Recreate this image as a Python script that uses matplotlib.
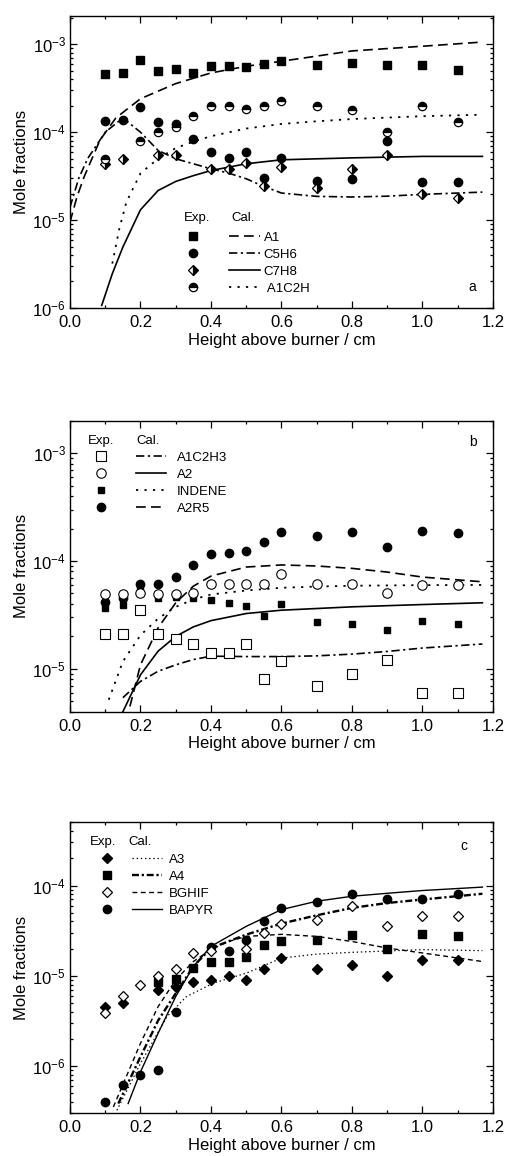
import matplotlib
matplotlib.use("Agg")
import matplotlib.pyplot as plt
from matplotlib.lines import Line2D
from matplotlib.ticker import LogLocator, MultipleLocator, NullFormatter, FormatStrFormatter
import numpy as np

plt.rcParams["font.family"] = ["Liberation Sans", "DejaVu Sans"]
plt.rcParams["mathtext.fontset"] = "custom"
plt.rcParams["mathtext.rm"] = "Liberation Sans"
plt.rcParams["mathtext.it"] = "Liberation Sans:italic"
plt.rcParams["axes.unicode_minus"] = False
plt.rcParams["lines.scale_dashes"] = False

# heights above burner (cm) of the sampled points
x_exp = [0.1, 0.15, 0.2, 0.25, 0.3, 0.35, 0.4, 0.45, 0.5, 0.55, 0.6, 0.7, 0.8, 0.9, 1.0, 1.1]

# ---- panel a: measured
a1_exp = [4.56e-4, 4.72e-4, 6.58e-4, 4.93e-4, 5.2e-4, 4.77e-4, 5.67e-4, 5.67e-4,
          5.52e-4, 5.93e-4, 6.52e-4, 5.77e-4, 6.19e-4, 5.87e-4, 5.87e-4, 5.07e-4]
c5h6_exp = [1.33e-4, 1.36e-4, 1.91e-4, 1.32e-4, 1.25e-4, 8.4e-5, 5.93e-5, 5.07e-5,
            5.93e-5, 3.0e-5, 5.07e-5, 2.8e-5, 2.95e-5, 7.9e-5, 2.7e-5, 2.7e-5]
c7h8_x = [0.1, 0.15, 0.25, 0.3, 0.4, 0.45, 0.5, 0.55, 0.6, 0.7, 0.8, 0.9, 1.0, 1.1]
c7h8_exp = [4.37e-5, 4.98e-5, 5.57e-5, 5.57e-5, 3.83e-5, 3.83e-5, 4.44e-5, 2.43e-5,
            4.0e-5, 2.31e-5, 3.83e-5, 5.57e-5, 2.0e-5, 1.78e-5]
a1c2h_x = [0.1, 0.2, 0.25, 0.3, 0.35, 0.4, 0.45, 0.5, 0.55, 0.6, 0.7, 0.8, 0.9, 1.0, 1.1]
a1c2h_exp = [5.0e-5, 8.0e-5, 1.0e-4, 1.15e-4, 1.51e-4, 2.0e-4, 2.0e-4, 1.84e-4, 2.0e-4,
             2.25e-4, 2.0e-4, 1.81e-4, 1.0e-4, 2.0e-4, 1.3e-4]

# ---- panel a: calculated
a1_cx = [0.0, 0.02, 0.04, 0.085, 0.13, 0.2, 0.3, 0.4, 0.5, 0.6, 0.8, 1.0, 1.17]
a1_cal = [9.5e-6, 1.85e-5, 3.1e-5, 8.1e-5, 1.45e-4, 2.4e-4, 3.57e-4, 4.72e-4, 5.62e-4,
          6.41e-4, 8.4e-4, 9.5e-4, 1.06e-3]
c5h6_cx = [0.0, 0.025, 0.05, 0.1, 0.15, 0.2, 0.25, 0.3, 0.35, 0.4, 0.45, 0.5, 0.55,
           0.6, 0.7, 0.8, 0.9, 1.0, 1.17]
c5h6_cal = [1.4e-5, 3.0e-5, 5.0e-5, 1.0e-4, 1.45e-4, 1.0e-4, 6.2e-5, 4.98e-5, 4.37e-5,
            3.83e-5, 3.42e-5, 2.95e-5, 2.41e-5, 2.03e-5, 1.86e-5, 1.83e-5, 1.87e-5,
            1.96e-5, 2.08e-5]
c7h8_cx = [0.09, 0.12, 0.15, 0.2, 0.25, 0.3, 0.35, 0.4, 0.5, 0.6, 0.8, 1.0, 1.17]
c7h8_cal = [1.07e-6, 2.45e-6, 4.93e-6, 1.31e-5, 2.17e-5, 2.75e-5, 3.2e-5, 3.66e-5,
            4.37e-5, 4.85e-5, 5.1e-5, 5.3e-5, 5.3e-5]
a1c2h_cx = [0.12, 0.14, 0.16, 0.2, 0.25, 0.3, 0.35, 0.4, 0.5, 0.6, 0.7, 0.8, 1.0, 1.17]
a1c2h_cal = [3.2e-6, 8.0e-6, 1.6e-5, 3.4e-5, 5.0e-5, 6.6e-5, 7.8e-5, 9.0e-5, 1.1e-4,
             1.24e-4, 1.33e-4, 1.41e-4, 1.52e-4, 1.58e-4]

# ---- panel b: measured
a1c2h3_exp = [2.11e-5, 2.11e-5, 3.52e-5, 2.1e-5, 1.9e-5, 1.7e-5, 1.4e-5, 1.4e-5,
              1.7e-5, 8.0e-6, 1.19e-5, 7.0e-6, 9.0e-6, 1.2e-5, 6.0e-6, 6.0e-6]
a2_exp = [4.9e-5, 4.97e-5, 5.07e-5, 4.9e-5, 4.9e-5, 5.07e-5, 6.07e-5, 6.07e-5,
          6.07e-5, 6.07e-5, 7.51e-5, 6.07e-5, 6.07e-5, 5.04e-5, 6.0e-5, 6.0e-5]
indene_exp = [3.68e-5, 3.9e-5, 5.85e-5, 4.5e-5, 4.63e-5, 4.5e-5, 4.37e-5, 4.1e-5,
              3.81e-5, 3.08e-5, 4.01e-5, 2.73e-5, 2.58e-5, 2.31e-5, 2.8e-5, 2.58e-5]
a2r5_exp = [4.2e-5, 4.5e-5, 6.07e-5, 6.07e-5, 7.1e-5, 9.1e-5, 1.15e-4, 1.2e-4,
            1.24e-4, 1.5e-4, 1.86e-4, 1.71e-4, 1.86e-4, 1.36e-4, 1.9e-4, 1.81e-4]

# ---- panel b: calculated
a1c2h3_cx = [0.15, 0.2, 0.25, 0.3, 0.35, 0.4, 0.5, 0.6, 0.7, 0.8, 0.9, 1.0, 1.17]
a1c2h3_cal = [5.4e-6, 7.65e-6, 9.5e-6, 1.09e-5, 1.22e-5, 1.31e-5, 1.3e-5, 1.3e-5,
              1.32e-5, 1.37e-5, 1.45e-5, 1.56e-5, 1.7e-5]
a2_cx = [0.15, 0.2, 0.25, 0.3, 0.35, 0.4, 0.5, 0.6, 0.8, 1.0, 1.17]
a2_cal = [4.0e-6, 8.8e-6, 1.46e-5, 2.0e-5, 2.45e-5, 2.8e-5, 3.26e-5, 3.5e-5, 3.76e-5,
          3.95e-5, 4.1e-5]
indene_cx = [0.11, 0.15, 0.2, 0.25, 0.3, 0.35, 0.4, 0.5, 0.6, 0.7, 0.8, 1.0, 1.17]
indene_cal = [5.17e-6, 1.17e-5, 2.05e-5, 2.93e-5, 3.76e-5, 4.4e-5, 4.9e-5, 5.33e-5,
              5.65e-5, 5.8e-5, 5.9e-5, 5.98e-5, 6.0e-5]
a2r5_cx = [0.17, 0.2, 0.25, 0.3, 0.35, 0.4, 0.5, 0.6, 0.7, 0.8, 0.9, 1.0, 1.17]
a2r5_cal = [4.48e-6, 1.09e-5, 2.4e-5, 4.1e-5, 5.85e-5, 7.25e-5, 8.8e-5, 9.2e-5, 9.0e-5,
            8.55e-5, 7.9e-5, 7.1e-5, 6.42e-5]

# ---- panel c: measured
a3_x = [0.1, 0.15, 0.25, 0.3, 0.35, 0.4, 0.45, 0.5, 0.55, 0.6, 0.7, 0.8, 0.9, 1.0, 1.1]
a3_exp = [4.49e-6, 4.96e-6, 6.99e-6, 7.6e-6, 8.5e-6, 9.0e-6, 1.0e-5, 9.0e-6, 1.19e-5,
          1.57e-5, 1.2e-5, 1.32e-5, 1.0e-5, 1.49e-5, 1.49e-5]
a4_x = [0.25, 0.3, 0.35, 0.4, 0.45, 0.5, 0.55, 0.6, 0.7, 0.8, 0.9, 1.0, 1.1]
a4_exp = [8.5e-6, 9.2e-6, 1.22e-5, 1.41e-5, 1.44e-5, 1.6e-5, 2.21e-5, 2.45e-5, 2.51e-5,
          2.83e-5, 2.0e-5, 2.93e-5, 2.73e-5]
bghif_x = [0.1, 0.15, 0.2, 0.25, 0.3, 0.35, 0.4, 0.5, 0.55, 0.6, 0.7, 0.8, 0.9, 1.0, 1.1]
bghif_exp = [3.92e-6, 6.04e-6, 7.9e-6, 1.0e-5, 1.2e-5, 1.79e-5, 1.86e-5, 2.0e-5, 2.98e-5,
             3.79e-5, 4.12e-5, 5.89e-5, 3.6e-5, 4.56e-5, 4.56e-5]
bapyr_x = [0.1, 0.15, 0.2, 0.25, 0.3, 0.4, 0.45, 0.5, 0.55, 0.6, 0.7, 0.8, 0.9, 1.0, 1.1]
bapyr_exp = [4.02e-7, 6.15e-7, 7.94e-7, 9.03e-7, 3.94e-6, 2.08e-5, 1.87e-5, 2.47e-5,
             4.08e-5, 5.65e-5, 6.53e-5, 8.08e-5, 7.11e-5, 7.0e-5, 8.1e-5]

# ---- panel c: calculated
a3_cx = [0.133, 0.2, 0.275, 0.33, 0.407, 0.5, 0.6, 0.7, 0.8, 1.0, 1.17]
a3_cal = [3.24e-7, 1.07e-6, 3.53e-6, 5.88e-6, 8.3e-6, 1.07e-5, 1.57e-5, 1.74e-5,
          1.82e-5, 1.95e-5, 1.9e-5]
a4_cx = [0.137, 0.2, 0.25, 0.3, 0.35, 0.4, 0.5, 0.6, 0.7, 0.8, 0.9, 1.0, 1.17]
a4_cal = [3.85e-7, 1.27e-6, 3.2e-6, 6.4e-6, 1.27e-5, 2.03e-5, 2.86e-5, 3.79e-5, 4.68e-5,
          5.65e-5, 6.4e-5, 7.0e-5, 8.1e-5]
bghif_cx = [0.123, 0.2, 0.25, 0.3, 0.35, 0.4, 0.45, 0.5, 0.6, 0.7, 0.8, 0.9, 1.0, 1.17]
bghif_cal = [3.53e-7, 1.79e-6, 4.56e-6, 9.03e-6, 1.44e-5, 1.95e-5, 2.4e-5, 2.73e-5,
             2.88e-5, 2.73e-5, 2.4e-5, 2.03e-5, 1.79e-5, 1.44e-5]
bapyr_cx = [0.165, 0.2, 0.25, 0.3, 0.35, 0.4, 0.5, 0.6, 0.7, 0.8, 0.9, 1.0, 1.17]
bapyr_cal = [3.85e-7, 8.65e-7, 2.31e-6, 5.9e-6, 1.27e-5, 2.12e-5, 3.53e-5, 5.41e-5,
             6.7e-5, 7.6e-5, 8.2e-5, 8.8e-5, 9.6e-5]

DASH = (0, (7, 3.8))
DASHDOT = (0, (6, 2.5, 1.6, 2.5))
DOTS = (0, (1.6, 4.5))
KEY_FS = 9.5

fig = plt.figure(figsize=(5.05, 11.56), dpi=100)
ax_a = fig.add_axes([0.1386, 0.7336, 0.8376, 0.2526])
ax_b = fig.add_axes([0.1386, 0.3843, 0.8376, 0.2517])
ax_c = fig.add_axes([0.1386, 0.0369, 0.8376, 0.2517])


def style_axes(ax, ylim):
    ax.set_yscale("log")
    ax.set_xlim(0, 1.2)
    ax.set_ylim(*ylim)
    ax.xaxis.set_major_locator(MultipleLocator(0.2))
    ax.xaxis.set_minor_locator(MultipleLocator(0.1))
    ax.xaxis.set_major_formatter(FormatStrFormatter("%.1f"))
    ax.yaxis.set_major_locator(LogLocator(base=10))
    ax.yaxis.set_minor_locator(LogLocator(base=10, subs=np.arange(2, 10)))
    ax.yaxis.set_minor_formatter(NullFormatter())
    ax.tick_params(which="both", direction="in", top=True, right=True,
                   labelsize=12, width=0.9)
    ax.tick_params(which="major", length=5)
    ax.tick_params(which="minor", length=2.5)
    ax.tick_params(axis="x", which="major", pad=5)
    ax.tick_params(axis="y", which="major", pad=3)
    for sp in ax.spines.values():
        sp.set_linewidth(1.0)
    ax.set_xlabel("Height above burner / cm", fontsize=12, labelpad=2)
    ax.set_ylabel("Mole fractions", fontsize=12, labelpad=2)


def add_key(ax, markers, lines, names, anchor, head_x, head_y, textpad, colspace):
    ax.legend(handles=markers + lines, labels=[""] * 4 + names, ncol=2,
              loc="upper left", bbox_to_anchor=anchor, frameon=False,
              fontsize=KEY_FS, handlelength=2.3, handletextpad=textpad,
              columnspacing=colspace, labelspacing=0.36, borderpad=0,
              borderaxespad=0)
    ax.text(head_x[0], head_y, "Exp.", transform=ax.transAxes, fontsize=KEY_FS,
            va="center")
    ax.text(head_x[1], head_y, "Cal.", transform=ax.transAxes, fontsize=KEY_FS,
            va="center")


def ln(ls, lw=1.1):
    return Line2D([], [], color="black", linestyle=ls, linewidth=lw)


# ---------------- panel a
ax = ax_a
ax.plot(a1_cx, a1_cal, color="black", ls=DASH, lw=1.2)
ax.plot(c5h6_cx, c5h6_cal, color="black", ls=DASHDOT, lw=1.2)
ax.plot(c7h8_cx, c7h8_cal, color="black", ls="-", lw=1.2)
ax.plot(a1c2h_cx, a1c2h_cal, color="black", ls=DOTS, lw=1.3)

sq_a = dict(marker="s", markersize=6, ls="none", color="black")
ci_a = dict(marker="o", markersize=6, ls="none", color="black")
di_a = dict(marker="D", markersize=5, ls="none", color="black", fillstyle="right",
            markerfacecoloralt="white", markeredgewidth=0.9)
hc_a = dict(marker="o", markersize=6, ls="none", color="black", fillstyle="top",
            markerfacecoloralt="white", markeredgewidth=0.9)
ax.plot(x_exp, a1_exp, **sq_a)
ax.plot(x_exp, c5h6_exp, **ci_a)
ax.plot(c7h8_x, c7h8_exp, **di_a)
ax.plot(a1c2h_x, a1c2h_exp, **hc_a)
style_axes(ax, (1e-6, 2.1e-3))
add_key(ax,
        [Line2D([], [], **sq_a), Line2D([], [], **ci_a), Line2D([], [], **di_a),
         Line2D([], [], **hc_a)],
        [ln(DASH, 1.2), ln(DASHDOT, 1.2), ln("-", 1.2), ln(DOTS, 1.3)],
        ["A1", "C5H6", "C7H8", " A1C2H"],
        (0.255, 0.262), (0.27, 0.381), 0.308, 0.3, 1.3)
ax.text(0.941, 0.072, "a", transform=ax.transAxes, fontsize=10, va="center")

# ---------------- panel b
ax = ax_b
ax.plot(a1c2h3_cx, a1c2h3_cal, color="black", ls=DASHDOT, lw=1.2)
ax.plot(a2_cx, a2_cal, color="black", ls="-", lw=1.2)
ax.plot(indene_cx, indene_cal, color="black", ls=DOTS, lw=1.3)
ax.plot(a2r5_cx, a2r5_cal, color="black", ls=DASH, lw=1.2)

osq_b = dict(marker="s", markersize=6.5, ls="none", color="black",
             markerfacecolor="white", markeredgewidth=0.8)
oci_b = dict(marker="o", markersize=6.8, ls="none", color="black",
             markerfacecolor="white", markeredgewidth=0.8)
sq_b = dict(marker="s", markersize=4.4, ls="none", color="black")
ci_b = dict(marker="o", markersize=6, ls="none", color="black")
ax.plot(x_exp, a2r5_exp, **ci_b)
ax.plot(x_exp, indene_exp, **sq_b)
ax.plot(x_exp, a2_exp, **oci_b)
ax.plot(x_exp, a1c2h3_exp, **osq_b)
style_axes(ax, (4e-6, 2e-3))
add_key(ax,
        [Line2D([], [], **osq_b), Line2D([], [], **oci_b), Line2D([], [], **sq_b),
         Line2D([], [], **ci_b)],
        [ln(DASHDOT, 1.2), ln("-", 1.2), ln(DOTS, 1.3), ln(DASH, 1.2)],
        ["A1C2H3", "A2", "INDENE", "A2R5"],
        (0.037, 0.894), (0.043, 0.156), 0.930, 0.83, 0.68)
ax.text(0.943, 0.927, "b", transform=ax.transAxes, fontsize=10, va="center")

# ---------------- panel c
ax = ax_c
FINE_DOT = (0, (1, 2))
SHORT_DASH = (0, (3.5, 2.5))
THICK_DD = (0, (5, 2, 1.6, 2))
ax.plot(a3_cx, a3_cal, color="black", ls=FINE_DOT, lw=0.9)
ax.plot(a4_cx, a4_cal, color="black", ls=THICK_DD, lw=1.7)
ax.plot(bghif_cx, bghif_cal, color="black", ls=SHORT_DASH, lw=1.0)
ax.plot(bapyr_cx, bapyr_cal, color="black", ls="-", lw=1.0)

di_c = dict(marker="D", markersize=5.3, ls="none", color="black")
sq_c = dict(marker="s", markersize=5.3, ls="none", color="black")
odi_c = dict(marker="D", markersize=4.8, ls="none", color="black",
             markerfacecolor="white", markeredgewidth=0.9)
ci_c = dict(marker="o", markersize=6, ls="none", color="black")
ax.plot(a3_x, a3_exp, **di_c)
ax.plot(a4_x, a4_exp, **sq_c)
ax.plot(bapyr_x, bapyr_exp, **ci_c)
ax.plot(bghif_x, bghif_exp, **odi_c)
style_axes(ax, (3e-7, 5e-4))
add_key(ax,
        [Line2D([], [], **di_c), Line2D([], [], **sq_c), Line2D([], [], **odi_c),
         Line2D([], [], **ci_c)],
        [ln(FINE_DOT, 0.9), ln(THICK_DD, 1.7), ln(SHORT_DASH, 1.0), ln("-", 1.0)],
        ["A3", "A4", "BGHIF", "BAPYR"],
        (0.051, 0.892), (0.047, 0.137), 0.933, 0.53, 0.23)
ax.text(0.924, 0.918, "c", transform=ax.transAxes, fontsize=10, va="center")

fig.savefig("out.png", dpi=100)
